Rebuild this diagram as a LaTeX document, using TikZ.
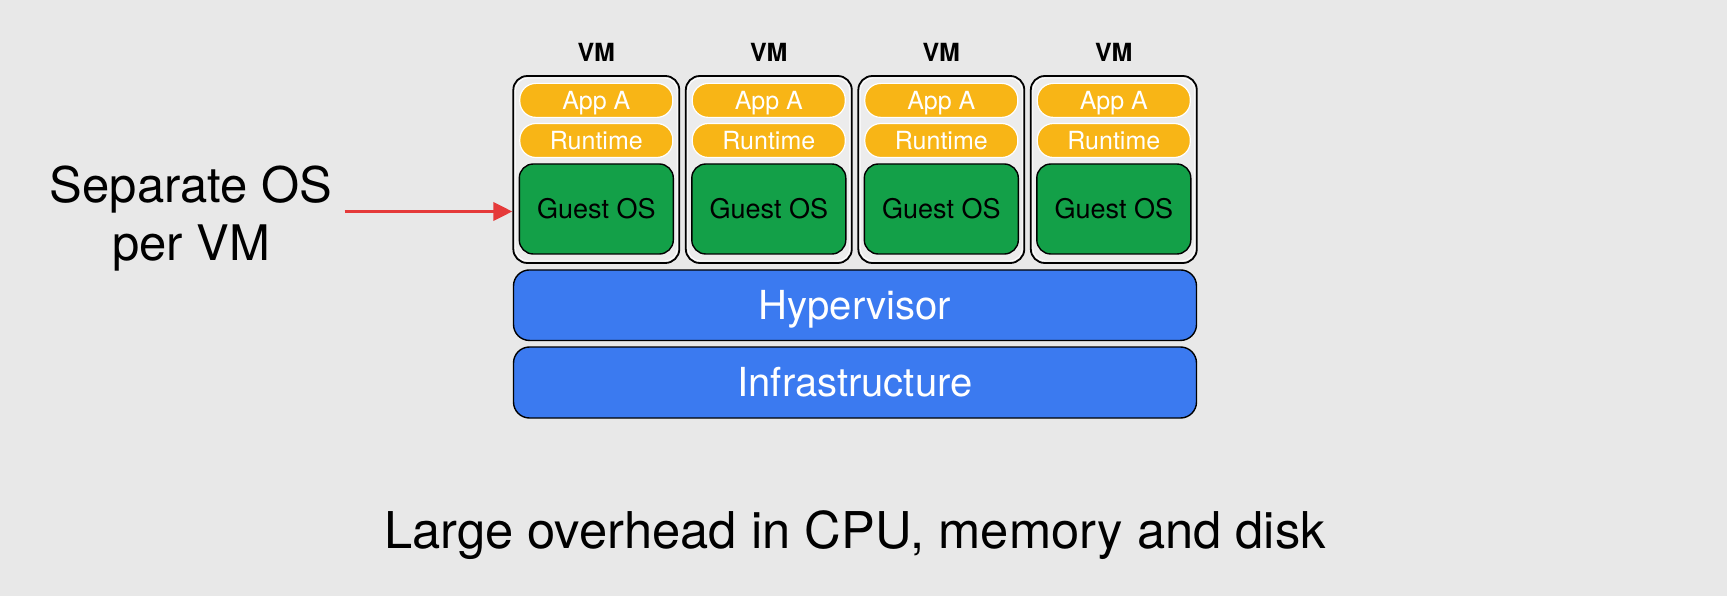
\documentclass[tikz,border=0pt]{standalone}
\usepackage{fontspec}
\setmainfont{TeX Gyre Heros}
\usetikzlibrary{arrows.meta}
\definecolor{bgc}{HTML}{E8E8E8}
\definecolor{vmfill}{HTML}{ECECEC}
\definecolor{appc}{HTML}{F8B516}
\definecolor{osc}{HTML}{13A048}
\definecolor{hypc}{HTML}{3B7AF0}
\definecolor{arrc}{HTML}{E53A3A}
\begin{document}
\begin{tikzpicture}[x=1pt,y=-1pt,
  vmbox/.style={draw=black,line width=1.8pt,fill=vmfill,rounded corners=14pt,minimum width=166pt,minimum height=187pt,inner sep=0pt},
  vminner/.style={draw=white,line width=0.8pt,rounded corners=12.5pt,minimum width=162pt,minimum height=183pt,inner sep=0pt},
  pill/.style={draw=white,line width=1.2pt,fill=appc,rounded corners=16pt,minimum width=153pt,minimum height=34pt,inner sep=0pt,
    text=white,font=\fontsize{25}{25}\selectfont,text height=18pt,text depth=0pt},
  guest/.style={draw=black,line width=1.4pt,fill=osc,rounded corners=14pt,minimum width=154pt,minimum height=90pt,inner sep=0pt,
    text=black,font=\fontsize{27}{27}\selectfont,text height=19.4pt,text depth=0pt},
  layer/.style={draw=black,line width=1.4pt,fill=hypc,rounded corners=16pt,minimum width=683pt,inner sep=0pt,
    text=white,font=\fontsize{40}{40}\selectfont,text height=28.7pt,text depth=0pt},
  vmlabel/.style={font=\fontsize{25}{25}\selectfont\bfseries,inner sep=0pt},
  bigtext/.style={font=\fontsize{50.7}{51}\selectfont,inner sep=0pt},
  sidetext/.style={font=\fontsize{49}{58}\selectfont,align=center,inner sep=0pt},
  redarrow/.style={draw=arrc,line width=3.6pt,-{Triangle[length=19pt,width=18pt]}}
]
\fill[bgc] (0,0) rectangle (1727,596);
\useasboundingbox (0,0) rectangle (1727,596);
\foreach \i in {1,2,3,4}{
  \pgfmathsetmacro{\cx}{596.3+(\i-1)*172.5}
  \node[vmlabel] (vml\i) at (\cx,52) {VM};
  \node[vmbox] (vm\i) at (\cx,169.5) {};
  \node[vminner] (vmi\i) at (\cx,169.5) {};
  \node[pill] (app\i) at (\cx,100.4) {App A};
  \node[pill] (rt\i) at (\cx,140.5) {Runtime};
  \node[guest] (os\i) at (\cx,209) {Guest OS};
}
\node[layer,minimum height=70.5pt] (hyp) at (855,305.2) {Hypervisor};
\node[layer,minimum height=71pt] (infra) at (855,382.5) {Infrastructure};
\node[sidetext] (side) at (191,218.5) {Separate OS\\per VM};
\coordinate (astart) at (344.7,211.5);
\draw[redarrow] (astart) -- (vm1.west |- astart);
\node[bigtext] (bottom) at (855,535.5) {Large overhead in CPU, memory and disk};
\end{tikzpicture}
\end{document}
